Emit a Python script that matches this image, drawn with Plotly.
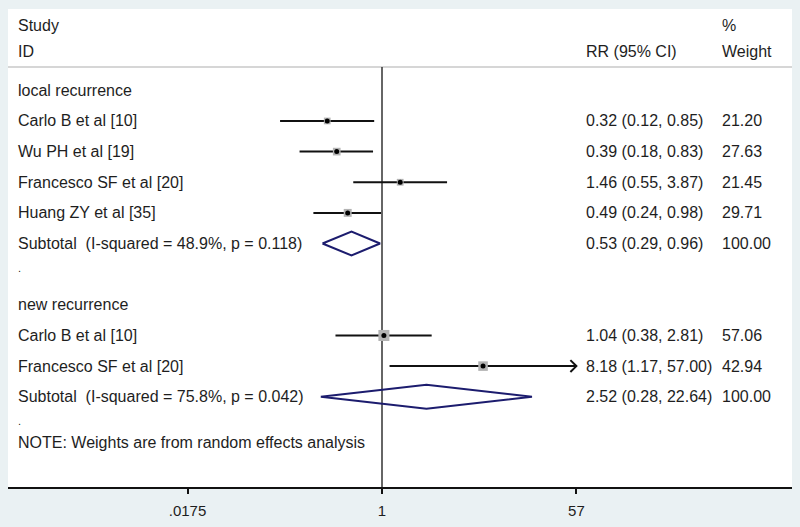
import math
import plotly.graph_objects as go

# ---------------- data ----------------
group_names = ["local recurrence", "new recurrence"]
studies = ["Carlo B et al [10]", "Wu PH et al [19]", "Francesco SF et al [20]", "Huang ZY et al [35]",
           "Carlo B et al [10]", "Francesco SF et al [20]"]
study_group = [0, 0, 0, 0, 1, 1]
rr = [0.32, 0.39, 1.46, 0.49, 1.04, 8.18]
rr_lo = [0.12, 0.18, 0.55, 0.24, 0.38, 1.17]
rr_hi = [0.85, 0.83, 3.87, 0.98, 2.81, 57.00]
weights = [21.20, 27.63, 21.45, 29.71, 57.06, 42.94]

sub_label = ["Subtotal\u00a0\u00a0(I-squared = 48.9%, p = 0.118)",
             "Subtotal\u00a0\u00a0(I-squared = 75.8%, p = 0.042)"]
sub_rr = [0.53, 2.52]
sub_lo = [0.29, 0.28]
sub_hi = [0.96, 22.64]
sub_w = [100.00, 100.00]

tick_vals = [0.0175, 1, 57]
tick_text = [".0175", "1", "57"]
note = "NOTE: Weights are from random effects analysis"

# ---------------- layout constants ----------------
W, H = 800, 527
ML, MR, MT, MB = 8, 8, 9, 36
PW = W - ML - MR
ROW0, ROWH = 91.0, 30.9
def row_of_px(py):
    return (py - ROW0) / ROWH
def xp(px):
    return (px - ML) / PW

X_MAX = 57.0
PX_PER_DEC = 110.7
X1_PX = 382
x_range = [(ML - X1_PX) / PX_PER_DEC, (W - MR - X1_PX) / PX_PER_DEC]
y_range = [row_of_px(H - MB), row_of_px(MT)]

FONT = "Liberation Sans, Arial, sans-serif"
TXT = "#1e1e1e"
FS = 16

# build rows
rows = []  # (row, kind, index)
r = 0
for g, gname in enumerate(group_names):
    rows.append((r, "group", g)); r += 1
    for i, sg in enumerate(study_group):
        if sg == g:
            rows.append((r, "study", i)); r += 1
    rows.append((r, "sub", g)); r += 1
    rows.append((r, "dot", g)); r += 1

fig = go.Figure()
annotations = []
def add_text(px, row, text, size=FS, yanchor="middle"):
    annotations.append(dict(x=xp(px), xref="paper", y=row, yref="y", text=text, showarrow=False,
                            xanchor="left", yanchor=yanchor, font=dict(family=FONT, size=size, color=TXT)))

LX, RRX, WX = 16, 584, 720

# header
add_text(LX, row_of_px(26), "Study")
add_text(LX, row_of_px(52), "ID")
add_text(RRX, row_of_px(52), "RR (95% CI)")
add_text(WX, row_of_px(26), "%")
add_text(WX, row_of_px(52), "Weight")

for row, kind, idx in rows:
    if kind == "group":
        add_text(LX, row, group_names[idx])
    elif kind == "dot":
        add_text(LX, row + 2 / ROWH, ".", size=11, yanchor="bottom")
    elif kind == "study":
        i = idx
        add_text(LX, row, studies[i])
        add_text(RRX, row, f"{rr[i]:.2f} ({rr_lo[i]:.2f}, {rr_hi[i]:.2f})")
        add_text(WX, row, f"{weights[i]:.2f}")
        hi = min(rr_hi[i], X_MAX)
        fig.add_trace(go.Scatter(x=[rr_lo[i], hi], y=[row, row], mode="lines",
                                 line=dict(color="#111111", width=2), hoverinfo="skip", showlegend=False))
        if rr_hi[i] >= X_MAX:
            k = 10 ** (6 / PX_PER_DEC)
            dy = 6 / ROWH
            fig.add_trace(go.Scatter(x=[X_MAX / k, X_MAX, X_MAX / k], y=[row - dy, row, row + dy], mode="lines",
                                     line=dict(color="#111111", width=2), hoverinfo="skip", showlegend=False))
        fig.add_trace(go.Scatter(x=[rr[i]], y=[row], mode="markers",
                                 marker=dict(symbol="square", size=1.46 * math.sqrt(weights[i]),
                                             color="#b3b3b3", line=dict(width=0)),
                                 hoverinfo="skip", showlegend=False))
        fig.add_trace(go.Scatter(x=[rr[i]], y=[row], mode="markers",
                                 marker=dict(symbol="circle", size=5, color="#000000", line=dict(width=0)),
                                 hoverinfo="skip", showlegend=False))
    elif kind == "sub":
        g = idx
        add_text(LX, row, sub_label[g])
        add_text(RRX, row, f"{sub_rr[g]:.2f} ({sub_lo[g]:.2f}, {sub_hi[g]:.2f})")
        add_text(WX, row, f"{sub_w[g]:.2f}")
        dh = 12 / ROWH
        fig.add_trace(go.Scatter(x=[sub_lo[g], sub_rr[g], sub_hi[g], sub_rr[g], sub_lo[g]],
                                 y=[row, row - dh, row, row + dh, row], mode="lines",
                                 line=dict(color="#1c1c6e", width=2), hoverinfo="skip", showlegend=False))

add_text(LX, row_of_px(446), note)

sep_row = row_of_px(67.5)
shapes = [
    dict(type="line", xref="paper", yref="y", x0=0, x1=1, y0=sep_row, y1=sep_row,
         line=dict(color="#c8c8c8", width=1.5), layer="below"),
    dict(type="line", xref="x", yref="y", x0=1, x1=1, y0=sep_row, y1=y_range[0],
         line=dict(color="#333333", width=1.5), layer="below"),
]

fig.update_layout(
    width=W, height=H, autosize=False,
    margin=dict(l=ML, r=MR, t=MT, b=MB, pad=0),
    paper_bgcolor="#eaf1f3", plot_bgcolor="#ffffff",
    showlegend=False,
    annotations=annotations, shapes=shapes,
    xaxis=dict(type="log", range=x_range, showgrid=False, zeroline=False,
               showline=True, linecolor="#111111", linewidth=1.5,
               ticks="outside", ticklen=5, tickwidth=1.5, tickcolor="#111111",
               tickvals=tick_vals, ticktext=tick_text, ticklabelstandoff=4,
               tickfont=dict(family=FONT, size=FS - 1, color=TXT)),
    yaxis=dict(range=y_range, showgrid=False, zeroline=False, showline=False,
               showticklabels=False, ticks=""),
)

fig.write_html("out.html", config={"displayModeBar": False},
               post_script="document.body.style.margin='0';document.body.style.overflow='hidden';")
